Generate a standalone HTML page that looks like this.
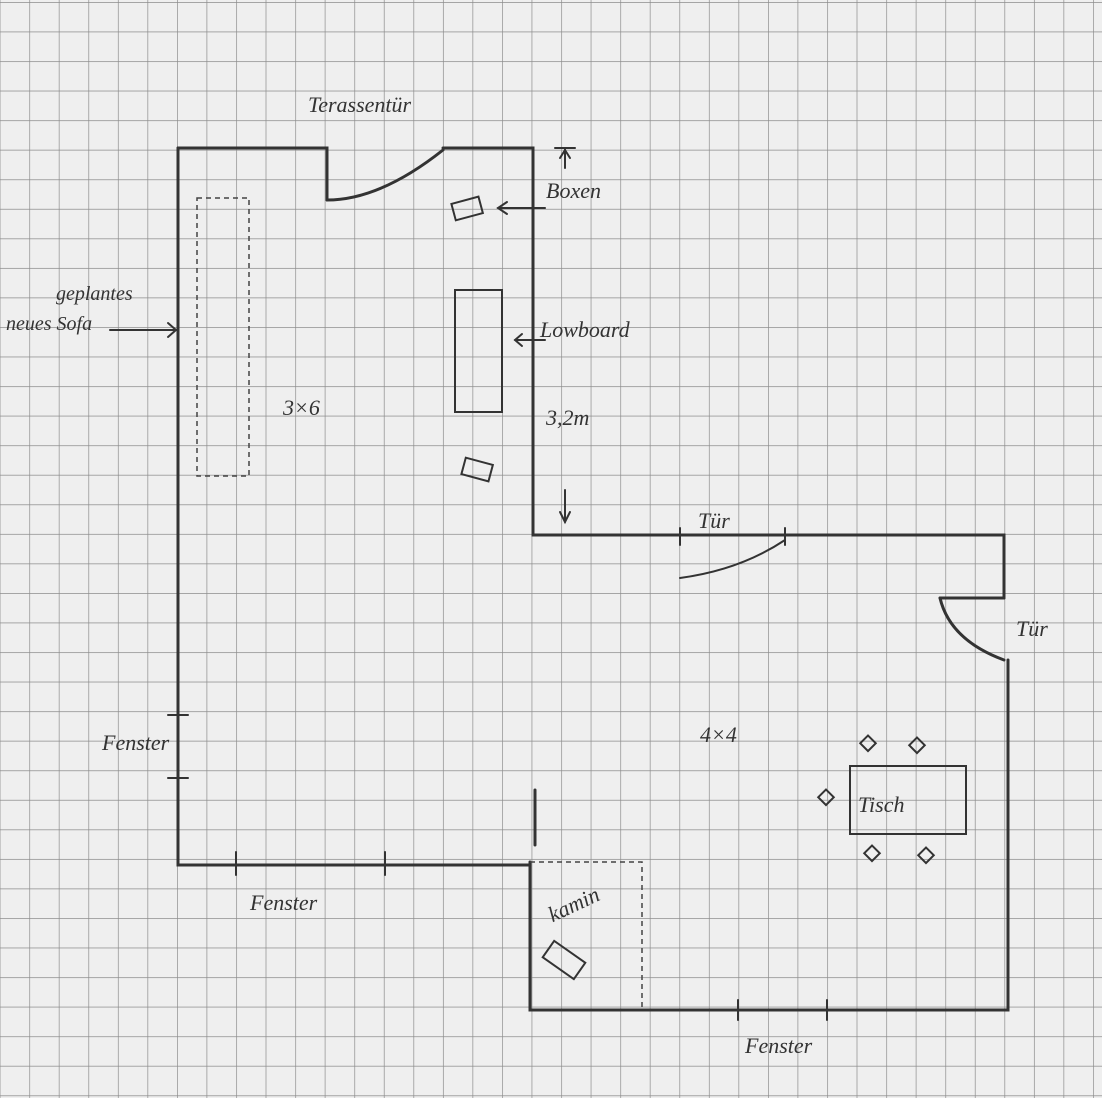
<!DOCTYPE html>
<html><head><style>
html,body{margin:0;padding:0;background:#efefef;}
svg{display:block;}
text{font-family:"Liberation Serif",serif;font-style:italic;fill:#333;}
</style></head><body>
<svg width="1102" height="1098" viewBox="0 0 1102 1098" xmlns="http://www.w3.org/2000/svg">
<defs>
<pattern id="g" x="-0.3" y="2" width="29.55" height="29.55" patternUnits="userSpaceOnUse">
<path d="M0 0 H29.55 M0 0 V29.55" stroke="#8c8c8c" stroke-width="1.4" fill="none"/>
</pattern>
</defs>
<rect width="1102" height="1098" fill="#efefef"/>
<rect width="1102" height="1098" fill="url(#g)"/>
<g stroke="#333" stroke-width="3" fill="none" stroke-linecap="round">
<path d="M178 148 H327 V200"/>
<path d="M327 200 Q380 200 443 150"/>
<path d="M443 148 H533 V535 H1004 V598"/>
<path d="M940 598 H1004"/>
<path d="M940 598 Q950 640 1004 660"/>
<path d="M1008 660 V1010 H530 V862"/>
<path d="M530 865 H178 V148"/>
<path d="M535 790 V845"/>
</g>
<g stroke="#333" stroke-width="2" fill="none" stroke-linecap="round">
<path d="M680 528 V545"/><path d="M785 528 V545"/>
<path d="M680 578 Q740 570 785 540"/>
<path d="M168 715 H188"/><path d="M168 778 H188"/>
<path d="M236 852 V875"/><path d="M385 852 V875"/>
<path d="M738 1000 V1020"/><path d="M827 1000 V1020"/>
<rect x="455" y="290" width="47" height="122"/>
<rect x="453" y="200" width="28" height="17" transform="rotate(-15 467 208)"/>
<rect x="463" y="461" width="28" height="17" transform="rotate(15 477 470)"/>
<rect x="850" y="766" width="116" height="68"/>
<rect x="862" y="738" width="11" height="11" transform="rotate(45 868 744)"/>
<rect x="911" y="740" width="11" height="11" transform="rotate(45 917 746)"/>
<rect x="820" y="792" width="11" height="11" transform="rotate(45 826 798)"/>
<rect x="866" y="848" width="11" height="11" transform="rotate(45 872 854)"/>
<rect x="920" y="850" width="11" height="11" transform="rotate(45 926 856)"/>
<rect x="545" y="950" width="38" height="20" transform="rotate(35 564 960)"/>
<path d="M555 148 H575"/><path d="M565 148 V168"/><path d="M560 158 L565 150 L570 158"/>
<path d="M565 490 V522"/><path d="M560 512 L565 522 L570 512"/>
<path d="M545 208 H498"/><path d="M507 202 L498 208 L507 214"/>
<path d="M545 340 H515"/><path d="M522 334 L515 340 L522 346"/>
<path d="M110 330 H176"/><path d="M168 323 L176 330 L168 337"/>
</g>
<g stroke="#444" stroke-width="1.5" fill="none" stroke-dasharray="5,4">
<rect x="197" y="198" width="52" height="278"/>
<path d="M530 862 H642 V1008"/>
</g>
<g font-size="22">
<text x="308" y="112">Terassentür</text>
<text x="546" y="198">Boxen</text>
<text x="540" y="337">Lowboard</text>
<text x="546" y="425">3,2m</text>
<text x="283" y="415">3×6</text>
<text x="698" y="528">Tür</text>
<text x="1016" y="636">Tür</text>
<text x="700" y="742">4×4</text>
<text x="858" y="812">Tisch</text>
<text x="102" y="750">Fenster</text>
<text x="250" y="910">Fenster</text>
<text x="745" y="1053">Fenster</text>
<text x="548" y="918" transform="rotate(-25 560 910)">kamin</text>
<text x="56" y="300" font-size="20">geplantes</text>
<text x="6" y="330" font-size="20">neues Sofa</text>
</g>
</svg>
</body></html>
